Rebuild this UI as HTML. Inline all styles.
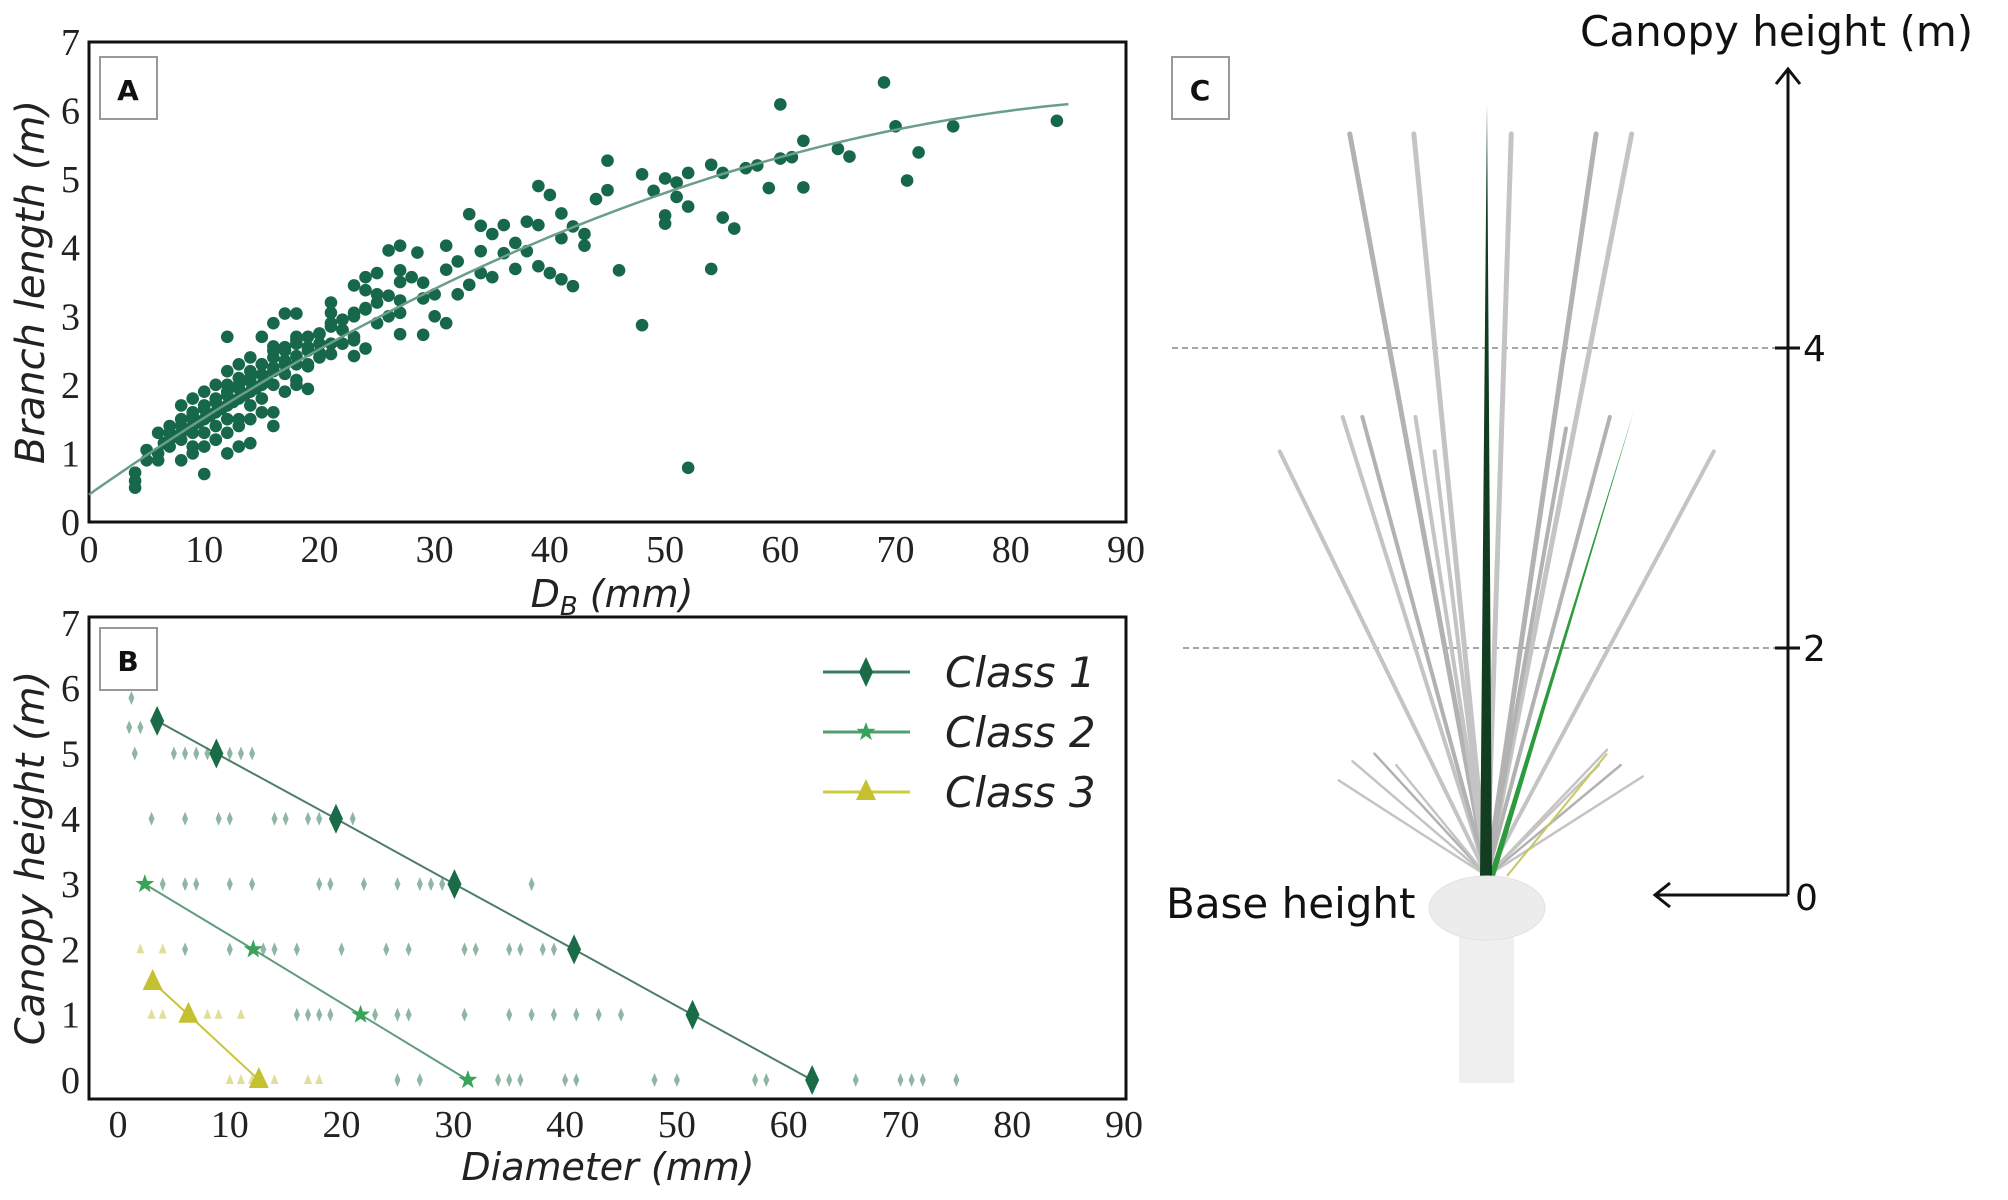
<!DOCTYPE html>
<html><head><meta charset="utf-8"><style>
html,body{margin:0;padding:0;background:#fff;}
svg{display:block;}
.tick{font-family:"Liberation Serif",serif;font-size:38px;fill:#222;}
.ital{font-family:"DejaVu Sans","Liberation Sans",sans-serif;font-style:italic;fill:#222;}
.sans{font-family:"DejaVu Sans","Liberation Sans",sans-serif;fill:#111;}
</style></head><body>
<svg id="fig" width="2008" height="1200" viewBox="0 0 2008 1200" xmlns="http://www.w3.org/2000/svg">
<g id="panelA"></g>
<g id="panelB"></g>
<g id="panelC"></g>
</svg>
<script>
// ---------- Panel A data ----------
const aXTicks = [0,10,20,30,40,50,60,70,80,90];
const aYTicks = [0,1,2,3,4,5,6,7];
const aDiam = [69,60,70,75,84,62,65,66,72,71,60,61,59,62,57,58,54,55,52,48,50,51,49,51,52,50,50,55,56,45,45,44,46,54,48,52,
39,40,41,42,43,41,43,39,38,36,34,33,35,37,38,34,36,39,40,41,42,37,35,34,33,32,31,31,32,30,30,31,29,29,29,28,28.5,27,26,27,25,24,23,24,25,27,27,27,27,26,25,24,23,22,21,21,24,23,23,22,21,20,20,19,19,18,17,16,18,17,18,17,19,18,16,
4,4,4,5,5,6,6,6,7,7,7,8,8,8,8,8,9,9,9,9,9,10,10,10,10,10,11,11,11,11,11,12,12,12,12,12,12,13,13,13,13,13,14,14,14,14,14,15,15,15,15,16,16,16,16,16,17,17,17,18,18,18,19,19,20,20,21,22,21,23,
6.5,7.5,8.5,9.5,10.5,11.5,12.5,13.5,14.5,15.5,9,10,11,12,13,14,15,7,8,9,10,11,12,13,14,15,16,17,12,13,14,15,16,17,18,19,20,21,22,23,24,25,26];
const aLen = [6.41,6.09,5.77,5.77,5.85,5.56,5.44,5.33,5.39,4.98,5.3,5.32,4.87,4.88,5.16,5.2,5.21,5.09,5.09,5.07,5.01,4.95,4.83,4.74,4.6,4.47,4.35,4.44,4.28,5.27,4.84,4.71,3.67,3.69,2.87,0.79,
4.9,4.77,4.5,4.31,4.2,4.14,4.03,4.33,4.38,4.33,4.32,4.49,4.2,4.07,3.95,3.95,3.92,3.73,3.63,3.54,3.44,3.69,3.57,3.63,3.46,3.32,4.03,3.68,3.8,3.32,3.0,2.9,3.26,2.73,3.49,3.57,3.93,4.03,3.96,3.67,3.63,3.57,3.45,3.38,3.32,3.5,3.23,3.05,2.74,3.0,2.9,3.12,3.0,2.8,3.2,3.05,2.53,2.42,2.65,2.6,2.45,2.74,2.47,2.55,2.27,3.04,3.04,2.9,2.65,2.55,2.42,2.16,1.94,2.07,2.56,
0.6,0.5,0.72,0.9,1.05,0.9,1.0,1.3,1.1,1.2,1.4,1.2,1.4,1.5,1.7,0.9,1.3,1.5,1.6,1.8,1.1,1.3,1.5,1.7,1.9,0.7,1.4,1.6,1.8,2.0,1.2,1.5,1.7,1.9,2.2,2.7,1.0,1.5,1.8,2.0,2.3,1.1,1.7,1.9,2.1,2.4,1.15,1.8,2.0,2.3,2.7,1.4,1.6,2.0,2.2,2.5,1.9,2.3,2.5,2.0,2.3,2.7,2.3,2.5,2.4,2.6,2.6,2.8,2.9,2.7,
1.15,1.25,1.35,1.45,1.55,1.65,1.75,1.85,1.95,2.05,1.0,1.1,1.2,1.3,1.4,1.5,1.6,1.3,1.4,1.55,1.65,1.75,1.85,1.95,2.05,2.15,2.25,2.35,2.0,2.1,2.2,2.3,2.4,2.5,2.6,2.7,2.75,2.85,2.95,3.05,3.1,3.2,3.3];
const aFitCoef = [0.4, 0.118, -0.0006];
const aFitRange = [0, 85];

// ---------- Panel B data ----------
const bXTicks = [0,10,20,30,40,50,60,70,80,90];
const bYTicks = [0,1,2,3,4,5,6,7];
const class1D = [3.5,8.8,19.5,30.1,40.8,51.4,62.1];
const class1H = [5.5,5,4,3,2,1,0];
const class2D = [2.4,12.1,21.7,31.3];
const class2H = [3,2,1,0];
const class3D = [3.1,6.3,12.6];
const class3H = [1.5,1,0];
const smallD = [1.2,1,2,1.5,5,6,7,8,10,11,12, 3,6,9,10,14,15,17,18,21, 4,6,7,10,12,18,19,22,25,27,28,29,37, 6,10,13,14,16,20,24,26,31,32,35,36,38,39, 16,17,18,19,23,25,26,31,35,37,39,41,43,45, 25,27,34,35,36,40,41,48,50,57,58,66,70,71,72,75];
const smallH = [5.85,5.4,5.4,5,5,5,5,5,5,5,5, 4,4,4,4,4,4,4,4,4, 3,3,3,3,3,3,3,3,3,3,3,3,3, 2,2,2,2,2,2,2,2,2,2,2,2,2,2, 1,1,1,1,1,1,1,1,1,1,1,1,1,1, 0,0,0,0,0,0,0,0,0,0,0,0,0,0,0,0];
const smallTriD = [2,4,3,4,6,8,9,11,10,11,12,14,17,18];
const smallTriH = [2,2,1,1,1,1,1,1,0,0,0,0,0,0];
const legendLabels = ["Class 1","Class 2","Class 3"];

const NS='http://www.w3.org/2000/svg';
function mk(tag, parent, attrs, text){
  const e=document.createElementNS(NS,tag);
  for(const k in attrs) e.setAttribute(k,attrs[k]);
  if(text!==undefined) e.textContent=text;
  parent.appendChild(e); return e;
}
// ---------- Panel A ----------
const A=document.getElementById('panelA');
const ax=v=>89+v*(1126-89)/90, ay=v=>522-v*(522-42)/7;
{
  const fr=mk('rect',A,{x:89,y:42,width:1037,height:480,fill:'none',stroke:'#111','stroke-width':3});
   
  aXTicks.forEach(t=>{const e=mk('text',A,{x:ax(t),y:562,'text-anchor':'middle',class:'tick'},String(t));
     });
  aYTicks.forEach(t=>{const e=mk('text',A,{x:80,y:ay(t)+13,'text-anchor':'end',class:'tick'},String(t));
     });
  const yt=mk('text',A,{x:0,y:0,'text-anchor':'middle',class:'ital','font-size':40,transform:'translate(44,282) rotate(-90)'},'Branch length (m)');
   
  const xt=mk('text',A,{x:612,y:607,'text-anchor':'middle',class:'ital','font-size':38},'');
   
  mk('tspan',xt,{},'D'); mk('tspan',xt,{'font-size':26,dy:8},'B'); mk('tspan',xt,{dy:-8},' (mm)');
  const pts=mk('g',A,{fill:'#17684a'});
   
  for(let i=0;i<aDiam.length;i++){
    const c=mk('circle',pts,{cx:ax(aDiam[i]),cy:ay(aLen[i]),r:6.3});
     
  }
  let d='';
  for(let v=aFitRange[0];v<=aFitRange[1];v+=1){
    const y=aFitCoef[0]+aFitCoef[1]*v+aFitCoef[2]*v*v;
    d+=(v===aFitRange[0]?'M':'L')+ax(v).toFixed(1)+','+ay(y).toFixed(1);
  }
  const fl=mk('path',A,{d:d,fill:'none',stroke:'#6a9e88','stroke-width':2.5});
   
  const lb=mk('rect',A,{x:100,y:57,width:57,height:62,fill:'#fff',stroke:'#999','stroke-width':2});
   
  const lt=mk('text',A,{x:128,y:100,'text-anchor':'middle',class:'sans','font-size':28,'font-weight':'bold'},'A');
   
}
// ---------- Panel B ----------
const B=document.getElementById('panelB');
const bx=v=>118+v*(1124-118)/90, by=v=>1080-v*65.3;
{
  const fr=mk('rect',B,{x:89,y:617,width:1037,height:482,fill:'none',stroke:'#111','stroke-width':3});
   
  bXTicks.forEach(t=>{const e=mk('text',B,{x:bx(t),y:1137,'text-anchor':'middle',class:'tick'},String(t));
     });
  bYTicks.forEach(t=>{const e=mk('text',B,{x:80,y:by(t)+13,'text-anchor':'end',class:'tick'},String(t));
     });
  const yt=mk('text',B,{x:0,y:0,'text-anchor':'middle',class:'ital','font-size':40,transform:'translate(44,858) rotate(-90)'},'Canopy height (m)');
   
  const xt=mk('text',B,{x:608,y:1180,'text-anchor':'middle',class:'ital','font-size':38},'Diameter (mm)');
   
  const sm=mk('g',B,{});
   
  for(let i=0;i<smallD.length;i++){
    const x=bx(smallD[i]),y=by(smallH[i]);
    const p=mk('polygon',sm,{points:`${x},${y-7} ${x+3},${y} ${x},${y+7} ${x-3},${y}`,fill:'#8fb5a3'});
     
  }
  for(let i=0;i<smallTriD.length;i++){
    const x=bx(smallTriD[i]),y=by(smallTriH[i]);
    const p=mk('polygon',sm,{points:`${x},${y-6} ${x+4},${y+4} ${x-4},${y+4}`,fill:'#e0de9a'});
     
  }
  function series(D,H,color,name,marker,lw){
    const g=mk('g',B,{});
     
    mk('polyline',g,{points:D.map((d,i)=>bx(d)+','+by(H[i])).join(' '),fill:'none',stroke:color,'stroke-width':lw});
    D.forEach((d,i)=>{const m=marker(g,bx(d),by(H[i]));
       });
  }
  const diamond=(c)=>(g,x,y)=>mk('polygon',g,{points:`${x},${y-15} ${x+7},${y} ${x},${y+15} ${x-7},${y}`,fill:c});
  const star=(c)=>(g,x,y)=>{let p='';for(let k=0;k<10;k++){const r=k%2?4:10,a=-Math.PI/2+k*Math.PI/5;p+=(x+r*Math.cos(a)).toFixed(1)+','+(y+r*Math.sin(a)).toFixed(1)+' ';}return mk('polygon',g,{points:p,fill:c});};
  const tri=(c)=>(g,x,y)=>mk('polygon',g,{points:`${x},${y-13} ${x+10},${y+8} ${x-10},${y+8}`,fill:c});
  series(class1D,class1H,'#4d7d67','class-1-series',diamond('#1a6b47'),2);
  series(class2D,class2H,'#5f9c7a','class-2-series',star('#3aa35a'),2);
  series(class3D,class3H,'#c8c43a','class-3-series',tri('#c5c030'),2);
  const lg=mk('g',B,{});
   
  const lc=['#3c7c60','#52a070','#cccc40'], mkrs=[diamond('#1a6b47'),star('#3aa35a'),tri('#c5c030')];
  legendLabels.forEach((t,i)=>{
    const y=672+i*60;
    const e=mk('g',lg,{});
     
    mk('line',e,{x1:823,y1:y,x2:910,y2:y,stroke:lc[i],'stroke-width':3});
    mkrs[i](e,866,y);
    mk('text',e,{x:945,y:y+15,class:'ital','font-size':42},t);
  });
  const lb=mk('rect',B,{x:100,y:628,width:57,height:62,fill:'#fff',stroke:'#999','stroke-width':2});
   
  const lt=mk('text',B,{x:128,y:671,'text-anchor':'middle',class:'sans','font-size':28,'font-weight':'bold'},'B');
   
}
// ---------- Panel C ----------
const C=document.getElementById('panelC');
const branchTips = [[365,175],[482,175],[660,175],[815,175],[880,175],[352,545],[388,545],[485,545],[237,590],[840,545],[1030,590],[520,590],[760,560],[345,1020],[370,995],[410,985],[900,1015],[835,980],[860,1000],[820,1000],[450,1000]];
{
  const cx=zx=>1150+zx/1.827, cy=zy=>zy/1.307;
  const bx0=1487, by0=876;
  [[348,1172],[648,1183]].forEach(([y,x0])=>{
    const l=mk('line',C,{x1:x0,y1:y,x2:1780,y2:y,stroke:'#888','stroke-width':1.5,'stroke-dasharray':'6,4'});
     
  });
  const br=mk('g',C,{});
   
  branchTips.forEach(([zx,zy],i)=>{
    const x=cx(zx),y=cy(zy);
    const len=Math.hypot(x-bx0,y-by0);
    const w=len>500?5:(len>300?4:2.5);
    const l=mk('line',br,{x1:bx0,y1:by0,x2:x,y2:y,stroke:i%3?'#c4c4c4':'#b2b2b2','stroke-width':w,'stroke-linecap':'round'});
     
  });
  const gb=mk('polygon',C,{points:`${bx0+2},${by0} ${cx(885)},${cy(535)} ${bx0+8},${by0}`,fill:'#2e9a3e'});
   
  const yb=mk('line',C,{x1:bx0+20,y1:by0,x2:cx(835),y2:cy(985),stroke:'#c8c860','stroke-width':2});
   
  const mb=mk('polygon',C,{points:`${bx0-7},${by0} ${bx0},103 ${bx0+5},${by0}`,fill:'#123d22'});
   
  const tr=mk('rect',C,{x:1459,y:935,width:55,height:148,fill:'#efefef'});
   
  const bu=mk('ellipse',C,{cx:1487,cy:908,rx:58,ry:32,fill:'#ececec',stroke:'#e2e2e2'});
   
  const ax1=mk('path',C,{d:'M1788,895 L1788,69 M1776,84 L1788,69 L1800,84',fill:'none',stroke:'#111','stroke-width':3});
   
  const ax2=mk('path',C,{d:'M1788,895 L1655,895 M1670,883 L1655,895 L1670,907',fill:'none',stroke:'#111','stroke-width':3});
   
  [[348,'4'],[648,'2']].forEach(([y,t])=>{
    mk('line',C,{x1:1775,y1:y,x2:1800,y2:y,stroke:'#111','stroke-width':3});
    const e=mk('text',C,{x:1803,y:y+13,class:'sans','font-size':36},t);
     
  });
  const z=mk('text',C,{x:1795,y:910,class:'sans','font-size':36},'0');
   
  const tt=mk('text',C,{x:1580,y:46,class:'sans','font-size':42},'Canopy height (m)');
   
  const bh=mk('text',C,{x:1166,y:918,class:'sans','font-size':42},'Base height');
   
  const lb=mk('rect',C,{x:1172,y:57,width:57,height:62,fill:'#fff',stroke:'#999','stroke-width':2});
   
  const lt=mk('text',C,{x:1200,y:100,'text-anchor':'middle',class:'sans','font-size':28,'font-weight':'bold'},'C');
   
}
</script>
</body></html>
